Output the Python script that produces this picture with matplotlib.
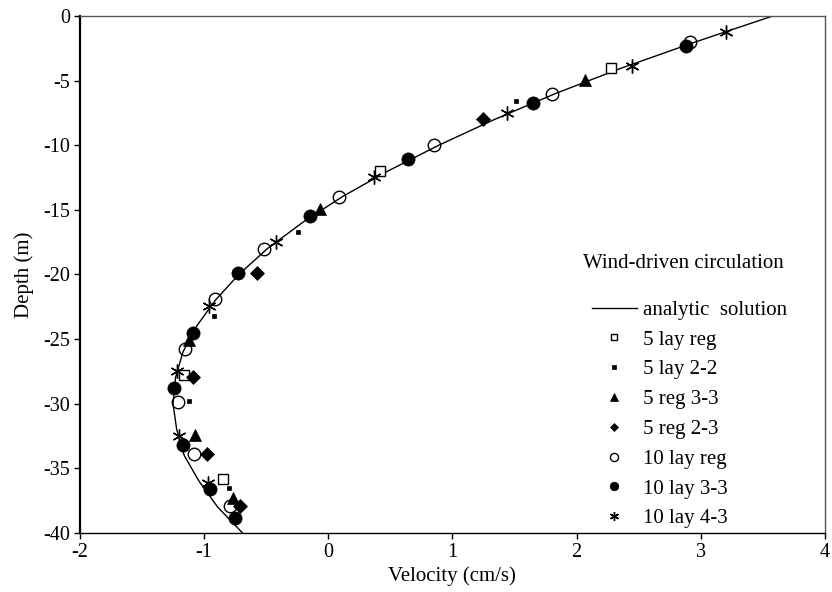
import matplotlib
matplotlib.use("Agg")
import matplotlib.pyplot as plt

plt.rcParams["font.family"] = ["Liberation Serif", "DejaVu Serif"]
plt.rcParams["font.size"] = 15
plt.rcParams["axes.unicode_minus"] = False

# analytic solution
ANALYTIC_DEPTH = [0, -2, -4, -6, -8, -10, -12, -14, -16, -18, -20,
                  -22, -24, -26, -28, -30, -32, -34, -36, -38, -40]
ANALYTIC_VEL = [3.58, 2.96, 2.37, 1.83, 1.34, 0.89, 0.48, 0.11, -0.21, -0.49, -0.72,
                -0.91, -1.06, -1.17, -1.23, -1.25, -1.22, -1.16, -1.04, -0.89, -0.69]

LAY5_REG_V = [2.28, 0.42, -1.16, -0.85]
LAY5_REG_D = [-4.0, -12.0, -27.8, -35.8]

LAY5_22_V = [1.51, -0.24, -0.92, -1.12, -0.80]
LAY5_22_D = [-6.6, -16.7, -23.2, -29.8, -36.5]

REG5_33_V = [2.07, -0.07, -1.12, -1.07, -0.77]
REG5_33_D = [-4.95, -14.95, -25.1, -32.4, -37.3]

REG5_23_V = [1.25, -0.57, -1.09, -0.98, -0.71]
REG5_23_D = [-8.0, -19.9, -27.9, -33.9, -37.95]

LAY10_REG_V = [2.91, 1.80, 0.85, 0.09, -0.52, -0.91, -1.15, -1.21, -1.08, -0.79]
LAY10_REG_D = [-2.0, -6.05, -10.0, -14.0, -18.0, -21.9, -25.8, -29.9, -33.9, -37.95]

LAY10_33_V = [2.88, 1.65, 0.64, -0.15, -0.73, -1.09, -1.24, -1.17, -0.95, -0.75]
LAY10_33_D = [-2.3, -6.7, -11.1, -15.5, -19.9, -24.5, -28.8, -33.2, -36.6, -38.85]

LAY10_43_V = [3.20, 2.45, 1.44, 0.37, -0.42, -0.96, -1.22, -1.20, -0.97]
LAY10_43_D = [-1.26, -3.84, -7.53, -12.45, -17.5, -22.4, -27.45, -32.5, -36.1]

ASTERISK = (6, 2, 0)


def main() -> None:
    fig = plt.figure(figsize=(8.32, 5.92), dpi=100)
    ax = fig.add_axes([0.096, 0.0997, 0.8955, 0.8733])

    ax.plot(ANALYTIC_VEL, ANALYTIC_DEPTH, color="black", linewidth=1.0,
            label="analytic  solution", zorder=2)

    kw = dict(linestyle="none", color="black", zorder=3)
    ax.plot(LAY5_REG_V, LAY5_REG_D, marker="s", ms=7.5, mfc="white", mew=1.0,
            label="5 lay reg", **kw)
    ax.plot(LAY5_22_V, LAY5_22_D, marker="s", ms=3.5, mew=0.5, label="5 lay 2-2", **kw)
    ax.plot(REG5_33_V, REG5_33_D, marker="^", ms=9, mew=0.5, label="5 reg 3-3", **kw)
    ax.plot(REG5_23_V, REG5_23_D, marker="D", ms=7, mew=0.5, label="5 reg 2-3", **kw)
    ax.plot(LAY10_REG_V, LAY10_REG_D, marker="o", ms=9, mfc="none", mew=1.0,
            label="10 lay reg", **kw)
    ax.plot(LAY10_33_V, LAY10_33_D, marker="o", ms=9.5, mew=0.5, label="10 lay 3-3", **kw)
    ax.plot(LAY10_43_V, LAY10_43_D, marker=ASTERISK, ms=10, mew=1.0,
            label="10 lay 4-3", **kw)

    ax.set_xlim(-2, 4)
    ax.set_ylim(-40, 0)
    ax.set_xticks(range(-2, 5))
    ax.set_yticks(range(-40, 1, 5))
    ax.tick_params(direction="out", length=4, width=1, pad=3, labelsize=14.5)
    ax.set_xlabel("Velocity (cm/s)", labelpad=3)
    ax.set_ylabel("Depth (m)", labelpad=7)

    ax.spines["left"].set_linewidth(1.6)
    ax.spines["bottom"].set_linewidth(1.0)
    for side in ("top", "right"):
        ax.spines[side].set_linewidth(1.0)
        ax.spines[side].set_color("#555555")

    ax.text(0.675, 0.522, "Wind-driven circulation", transform=ax.transAxes,
            ha="left", va="center")
    ax.legend(loc="upper left", bbox_to_anchor=(0.687, 0.450), frameon=False,
              borderaxespad=0, borderpad=0, handlelength=2.15, handletextpad=0.3,
              labelspacing=0.49, markerscale=0.65)

    fig.savefig("out.png", dpi=100)
    plt.close(fig)


if __name__ == "__main__":
    main()
